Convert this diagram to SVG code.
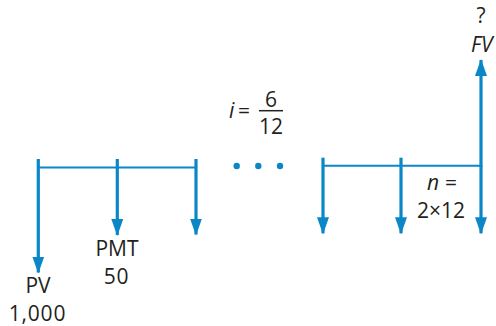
<svg xmlns="http://www.w3.org/2000/svg" width="496" height="326" viewBox="0 0 496 326">
<defs>
<style>
.ln{stroke:#0b87c8;fill:none}
.v{stroke-width:3.2}
.h{stroke-width:2}
.ah{fill:#0b87c8}
text{font-family:"Open Sans","Noto Sans","Liberation Sans",sans-serif;font-size:21px;fill:#231f20}
.it{font-style:italic}
</style>
<marker id="arr" viewBox="0 0 17 12" refX="16" refY="6" markerWidth="17" markerHeight="12" markerUnits="userSpaceOnUse" orient="auto">
<path d="M0,0 L17,6 L0,12 Z" class="ah"/>
</marker>
</defs>
<rect width="496" height="326" fill="#ffffff"/>
<g id="connectors">
<line class="ln h" x1="38.3" y1="167.5" x2="196" y2="167.5"/>
<line class="ln h" x1="323" y1="165.7" x2="481" y2="165.7"/>
<line class="ln v" x1="38.3" y1="159" x2="38.3" y2="272.5" marker-end="url(#arr)"/>
<line class="ln v" x1="117.3" y1="159" x2="117.3" y2="235" marker-end="url(#arr)"/>
<line class="ln v" x1="196" y1="159" x2="196" y2="234.5" marker-end="url(#arr)"/>
<line class="ln v" x1="323" y1="157.7" x2="323" y2="233.3" marker-end="url(#arr)"/>
<line class="ln v" x1="401" y1="157.7" x2="401" y2="233.3" marker-end="url(#arr)"/>
<line class="ln v" x1="481" y1="165.7" x2="481" y2="233.3" marker-end="url(#arr)"/>
<line class="ln v" x1="481" y1="167" x2="481" y2="60" marker-end="url(#arr)"/>
</g>
<g id="dots" fill="#0b87c8">
<circle cx="236.7" cy="166" r="3.2"/>
<circle cx="258.3" cy="166" r="3.2"/>
<circle cx="280" cy="166" r="3.2"/>
</g>
<g id="pv">
<text x="38" y="293.3" text-anchor="middle">PV</text>
<text x="37.5" y="320.5" text-anchor="middle" letter-spacing="0.8">1,000</text>
</g>
<g id="pmt">
<text x="117" y="255.5" text-anchor="middle">PMT</text>
<text x="116.5" y="284.3" text-anchor="middle" letter-spacing="0.8">50</text>
</g>
<g id="rate">
<text x="229" y="117.7" class="it">i</text>
<text x="238" y="117.7">=</text>
<line x1="259" y1="110.7" x2="283" y2="110.7" stroke="#231f20" stroke-width="1.5"/>
<text x="271" y="107" text-anchor="middle">6</text>
<text x="271" y="134" text-anchor="middle">12</text>
</g>
<g id="fv">
<text x="481" y="23.3" text-anchor="middle">?</text>
<text x="471" y="51.7" class="it">FV</text>
</g>
<g id="n">
<text x="427" y="190" class="it">n</text>
<text x="445" y="190">=</text>
<text x="441" y="218" text-anchor="middle">2×12</text>
</g>
</svg>
